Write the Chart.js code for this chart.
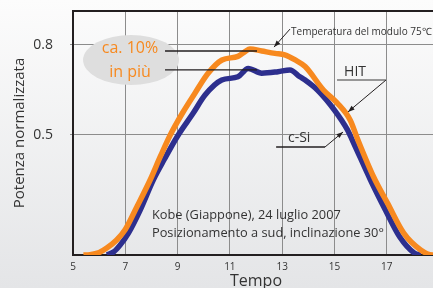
<!DOCTYPE html>
<html>
<head>
<meta charset="utf-8">
<script src="https://cdn.jsdelivr.net/npm/chart.js@4.4.1/dist/chart.umd.min.js"></script>
<style>
html, body { margin: 0; padding: 0; overflow: hidden; width: 433px; height: 288px; }
body { background: linear-gradient(#fcfcfc, #e4e5e7); }
canvas { display: block; }
</style>
</head>
<body>
<canvas id="grafico" width="450" height="288"></canvas>
<script>
// ore del giorno e potenza normalizzata
const oreHIT = [5.4, 5.65, 6.0, 6.29, 6.67, 7.0, 7.44, 7.95, 8.35, 8.72, 9.2, 9.67, 10.16, 10.7, 11.31, 11.58, 11.77, 12.22, 12.73, 13.1, 13.5, 13.88, 14.58, 15.1, 15.6, 15.9, 16.5, 17.03, 17.65, 18.3, 18.75, 19];
const potenzaHIT = [0.1, 0.101, 0.108, 0.123, 0.15, 0.185, 0.26, 0.35, 0.43, 0.5, 0.575, 0.64, 0.705, 0.75, 0.762, 0.778, 0.787, 0.78, 0.772, 0.767, 0.75, 0.728, 0.65, 0.607, 0.55, 0.483, 0.36, 0.273, 0.173, 0.117, 0.1, 0.1];

const oreCSi = [6.3, 6.55, 6.8, 7.12, 7.57, 8.07, 8.5, 8.99, 9.6, 10.05, 10.69, 11.31, 11.7, 12.22, 12.84, 13.3, 13.68, 13.88, 14.35, 15.0, 15.5, 15.7, 16.38, 16.95, 17.5, 18.05, 18.3];
const potenzaCSi = [0.1, 0.11, 0.133, 0.173, 0.25, 0.35, 0.42, 0.495, 0.573, 0.633, 0.683, 0.694, 0.722, 0.706, 0.711, 0.717, 0.694, 0.683, 0.65, 0.583, 0.517, 0.48, 0.35, 0.25, 0.16, 0.107, 0.1];

const tickOre = [5, 7, 9, 11, 13, 15, 17, 19];
const tickPotenza = [0.5, 0.8];

const arancio = '#f7891f';
const blu = '#2d2f8e';
const nero = '#231f20';

function punti(xs, ys) {
    return xs.map((x, i) => ({ x: x, y: ys[i] }));
}

function freccia(ctx, x1, y1, x2, y2) {
    ctx.beginPath();
    ctx.moveTo(x1, y1);
    ctx.lineTo(x2, y2);
    ctx.stroke();
    const a = Math.atan2(y2 - y1, x2 - x1);
    ctx.beginPath();
    ctx.moveTo(x2, y2);
    ctx.lineTo(x2 - 7 * Math.cos(a - 0.35), y2 - 7 * Math.sin(a - 0.35));
    ctx.lineTo(x2 - 7 * Math.cos(a + 0.35), y2 - 7 * Math.sin(a + 0.35));
    ctx.closePath();
    ctx.fill();
}

// ellisse, testi e frecce di commento
const annotazioni = {
    id: 'annotazioni',
    beforeDatasetsDraw(chart) {
        const ctx = chart.ctx;
        const sx = chart.scales.x, sy = chart.scales.y;
        ctx.save();
        ctx.fillStyle = '#dedede';
        ctx.beginPath();
        ctx.ellipse(sx.getPixelForValue(7.22), sy.getPixelForValue(0.75), 48, 25, 0, 0, Math.PI * 2);
        ctx.fill();
        ctx.restore();
    },
    afterDraw(chart) {
        const ctx = chart.ctx;
        const area = chart.chartArea;
        const sx = chart.scales.x, sy = chart.scales.y;
        const px = v => sx.getPixelForValue(v);
        const py = v => sy.getPixelForValue(v);
        ctx.save();

        // bordo superiore
        ctx.strokeStyle = nero;
        ctx.lineWidth = 2;
        ctx.beginPath();
        ctx.moveTo(area.left - 1, area.top);
        ctx.lineTo(area.right + 20, area.top);
        ctx.stroke();

        // ca. 10% in più
        ctx.fillStyle = arancio;
        ctx.font = '16px "Open Sans"';
        ctx.textAlign = 'center';
        ctx.textBaseline = 'middle';
        ctx.fillText('ca. 10%', px(7.18), py(0.79));
        ctx.fillText('in più', px(7.18), py(0.71));

        ctx.strokeStyle = nero;
        ctx.fillStyle = nero;
        ctx.lineWidth = 1.3;
        ctx.beginPath();
        ctx.moveTo(px(8.52), py(0.78));
        ctx.lineTo(px(12.04), py(0.78));
        ctx.moveTo(px(8.52), py(0.717));
        ctx.lineTo(px(12.04), py(0.717));
        ctx.stroke();

        // temperatura
        ctx.lineWidth = 1;
        ctx.font = '10px "Open Sans"';
        ctx.textAlign = 'left';
        ctx.fillStyle = '#333';
        ctx.fillText('Temperatura del modulo 75℃', px(13.34), py(0.843));
        ctx.fillStyle = nero;
        freccia(ctx, px(13.3), py(0.853), px(12.69), py(0.793));

        // HIT
        ctx.font = '14px "Open Sans"';
        ctx.textAlign = 'center';
        ctx.fillStyle = '#333';
        ctx.fillText('HIT', px(15.79), py(0.71));
        ctx.strokeStyle = '#777';
        ctx.lineWidth = 1.5;
        ctx.beginPath();
        ctx.moveTo(px(15.1), py(0.683));
        ctx.lineTo(px(16.97), py(0.683));
        ctx.stroke();
        ctx.strokeStyle = nero;
        ctx.fillStyle = nero;
        ctx.lineWidth = 1;
        freccia(ctx, px(16.97), py(0.683), px(15.52), py(0.577));

        // c-Si
        ctx.fillStyle = '#333';
        ctx.fillText('c-Si', px(13.65), py(0.49));
        ctx.lineWidth = 1.3;
        ctx.beginPath();
        ctx.moveTo(px(12.77), py(0.46));
        ctx.lineTo(px(14.64), py(0.46));
        ctx.stroke();
        ctx.fillStyle = nero;
        ctx.lineWidth = 1;
        freccia(ctx, px(14.64), py(0.46), px(15.33), py(0.51));

        // luogo e data
        ctx.font = '12.8px "Open Sans"';
        ctx.textAlign = 'left';
        ctx.fillStyle = '#333';
        ctx.fillText('Kobe (Giappone), 24 luglio 2007', px(8.02), py(0.233));
        ctx.fillText('Posizionamento a sud, inclinazione 30°', px(8.02), py(0.173));

        ctx.restore();
    }
};

function creaGrafico(canvasId) {
    const ctx = document.getElementById(canvasId).getContext('2d');
    new Chart(ctx, {
        type: 'line',
        data: {
            datasets: [{
                label: 'HIT',
                data: punti(oreHIT, potenzaHIT),
                borderColor: arancio,
                borderWidth: 5.5,
                pointRadius: 0,
                cubicInterpolationMode: 'monotone'
            }, {
                label: 'c-Si',
                data: punti(oreCSi, potenzaCSi),
                borderColor: blu,
                borderWidth: 5.5,
                pointRadius: 0,
                cubicInterpolationMode: 'monotone'
            }]
        },
        options: {
            responsive: false,
            animation: false,
            layout: { padding: { top: 11, right: 11, left: 0, bottom: 0 } },
            plugins: {
                legend: { display: false },
                tooltip: { enabled: false }
            },
            scales: {
                x: {
                    type: 'linear',
                    min: 5,
                    max: 19,
                    afterBuildTicks: scale => { scale.ticks = tickOre.map(v => ({ value: v })); },
                    afterFit: scale => {
                        scale.height = 33;
                        scale.paddingLeft = 0;
                        scale.paddingRight = 0;
                    },
                    ticks: {
                        color: '#333',
                        font: { family: '"Open Sans"', size: 10 },
                        padding: 6,
                        maxRotation: 0
                    },
                    grid: {
                        color: c => (c.tick && (c.tick.value === 5 || c.tick.value === 19)) ? 'rgba(0,0,0,0)' : '#8c8c8c',
                        lineWidth: 1,
                        drawTicks: false
                    },
                    border: { color: nero, width: 2 },
                    title: {
                        display: true,
                        text: 'Tempo',
                        color: '#333',
                        font: { family: '"Open Sans"', size: 16, lineHeight: 1 },
                        padding: { top: 0, bottom: -1 }
                    }
                },
                y: {
                    min: 0.1,
                    max: 0.9133,
                    afterBuildTicks: scale => { scale.ticks = tickPotenza.map(v => ({ value: v })); },
                    afterFit: scale => {
                        scale.width = 73;
                        scale.paddingTop = 0;
                        scale.paddingBottom = 0;
                    },
                    ticks: {
                        color: '#333',
                        font: { family: '"Open Sans"', size: 14 },
                        padding: 17,
                        callback: v => v.toFixed(1)
                    },
                    grid: {
                        color: '#8c8c8c',
                        lineWidth: 1,
                        drawTicks: true,
                        tickLength: 3
                    },
                    border: { color: nero, width: 2 },
                    title: {
                        display: true,
                        text: 'Potenza normalizzata',
                        color: '#333',
                        font: { family: '"Open Sans"', size: 15 },
                        padding: { top: 11, bottom: 0 }
                    }
                }
            }
        },
        plugins: [annotazioni]
    });
}

document.addEventListener('DOMContentLoaded', () => {
    creaGrafico('grafico');
});
</script>
</body>
</html>
